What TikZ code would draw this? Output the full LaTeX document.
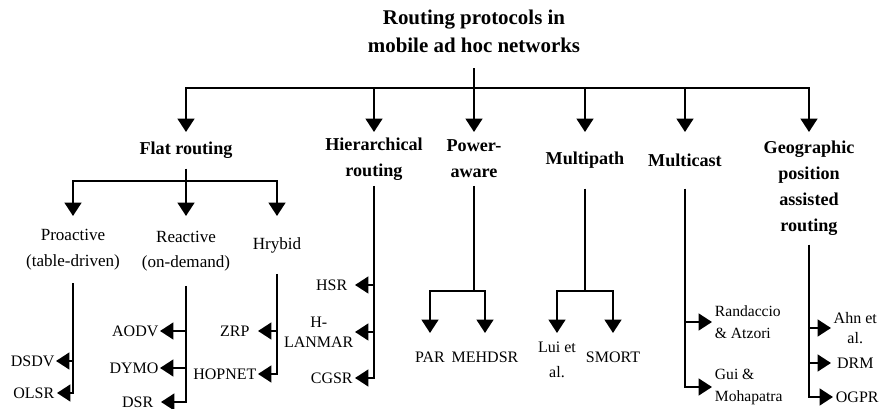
\documentclass[tikz,border=0pt]{standalone}
\usepackage{fontspec}
\setmainfont{Liberation Serif}
\usetikzlibrary{arrows.meta}

\begin{document}
\begin{tikzpicture}[x=0.75pt, y=-0.75pt,
    title/.style={font=\bfseries\fontsize{15.7}{21}\selectfont, align=center, minimum height=55.5pt},
    cat/.style={font=\bfseries\fontsize{13.6}{19.5}\selectfont, align=center, anchor=north},
    sub/.style={font=\fontsize{12.8}{19}\selectfont, align=center, anchor=north},
    leaf/.style={font=\fontsize{12}{15}\selectfont, align=center, inner xsep=1pt, minimum width=34.5pt},
    line/.style={line width=1.7pt},
    arr/.style={line, -{Triangle[length=10pt,width=12.5pt]}}]

    \useasboundingbox (0,0) rectangle (879,409);

    % Root of the tree
    \node[title] (root) at (474,31) {Routing protocols in\\mobile ad hoc networks};
    \coordinate (hub) at (474,88);

    % Main categories (tips of the arrows at y=132)
    \node[cat, minimum height=27pt] (flat) at (186,132) {Flat routing};
    \node[cat, minimum height=40pt] (hier) at (374,132) {Hierarchical\\routing};
    \node[cat, minimum height=40pt] (power) at (474,132) {Power-\\aware};
    \node[cat, minimum height=42pt] (mpath) at (585,132) {Multipath};
    \node[cat, minimum height=42pt] (mcast) at (685,132) {Multicast};
    \node[cat, minimum height=84pt] (geo) at (809,132) {Geographic\\position\\assisted\\routing};

    \draw[line] (root) -- (hub);
    \foreach \c in {flat,hier,power,mpath,mcast,geo}
        \draw[arr] (hub) -| (\c.north);

    % Flat routing branches
    \coordinate (flathub) at (186,181);
    \node[sub, minimum height=50pt] (pro) at (73,216) {Proactive\\(table-driven)};
    \node[sub, minimum height=52pt] (rea) at (186,216) {Reactive\\(on-demand)};
    \node[sub, minimum height=43pt] (hyb) at (277,216) {Hrybid};

    \draw[line] (flat) -- (flathub);
    \foreach \c in {pro,rea,hyb}
        \draw[arr] (flathub) -| (\c.north);

    % Proactive protocols
    \node[leaf, anchor=east] (dsdv) at (56,361) {DSDV};
    \node[leaf, anchor=east] (olsr) at (57,393) {OLSR};
    \draw[arr] (pro.south |- dsdv) -- (dsdv.east);
    \draw[arr] (pro.south) |- (olsr.east);

    % Reactive protocols
    \node[leaf, anchor=east] (aodv) at (160,331) {AODV};
    \node[leaf, anchor=east] (dymo) at (160,368) {DYMO};
    \node[leaf, anchor=east] (dsr) at (161,402) {DSR};
    \draw[arr] (rea.south |- aodv) -- (aodv.east);
    \draw[arr] (rea.south |- dymo) -- (dymo.east);
    \draw[arr] (rea.south) |- (dsr.east);

    % Hybrid protocols
    \node[leaf, anchor=east] (zrp) at (258,331) {ZRP};
    \node[leaf, anchor=east] (hopnet) at (258,374) {HOPNET};
    \draw[arr] (hyb.south |- zrp) -- (zrp.east);
    \draw[arr] (hyb.south) |- (hopnet.east);

    % Hierarchical protocols
    \node[leaf, anchor=east] (hsr) at (355,285) {HSR};
    \node[leaf, anchor=east] (hlanmar) at (355,332) {H-\\LANMAR};
    \node[leaf, anchor=east] (cgsr) at (355,378) {CGSR};
    \draw[arr] (hier.south |- hsr) -- (hsr.east);
    \draw[arr] (hier.south |- hlanmar) -- (hlanmar.east);
    \draw[arr] (hier.south) |- (cgsr.east);

    % Power-aware protocols
    \coordinate (powhub) at (474,291);
    \node[leaf, anchor=north, minimum height=36pt] (par) at (430,333) {PAR};
    \node[leaf, anchor=north, minimum height=36pt] (mehdsr) at (485,333) {MEHDSR};
    \draw[line] (power) -- (powhub);
    \draw[arr] (powhub) -| (par.north);
    \draw[arr] (powhub) -| (mehdsr.north);

    % Multipath protocols
    \coordinate (mphub) at (585,291);
    \node[leaf, anchor=north, minimum height=40pt, font=\fontsize{12}{18.75}\selectfont] (lui) at (557,333) {Lui et\\al.};
    \node[leaf, anchor=north, minimum height=36pt] (smort) at (613,333) {SMORT};
    \draw[line] (mpath) -- (mphub);
    \draw[arr] (mphub) -| (lui.north);
    \draw[arr] (mphub) -| (smort.north);

    % Multicast protocols
    \node[leaf, anchor=west, align=left, inner xsep=2pt, font=\fontsize{11.7}{16.5}\selectfont] (rand) at (712,322) {Randaccio\\\& Atzori};
    \node[leaf, anchor=west, align=left, inner xsep=2pt, font=\fontsize{11.7}{16.5}\selectfont] (gui) at (712,387) {Gui \&\\Mohapatra};
    \draw[arr] (mcast.south |- rand) -- (rand.west);
    \draw[arr] (mcast.south) |- (gui.west);

    % Geographic protocols
    \node[leaf, anchor=west, minimum width=36pt] (ahn) at (831,328) {Ahn et\\al.};
    \node[leaf, anchor=west, minimum width=36pt] (drm) at (831,363) {DRM};
    \node[leaf, anchor=west, minimum width=36pt] (ogpr) at (833,397) {OGPR};
    \draw[arr] (geo.south |- ahn) -- (ahn.west);
    \draw[arr] (geo.south |- drm) -- (drm.west);
    \draw[arr] (geo.south) |- (ogpr.west);

\end{tikzpicture}
\end{document}
